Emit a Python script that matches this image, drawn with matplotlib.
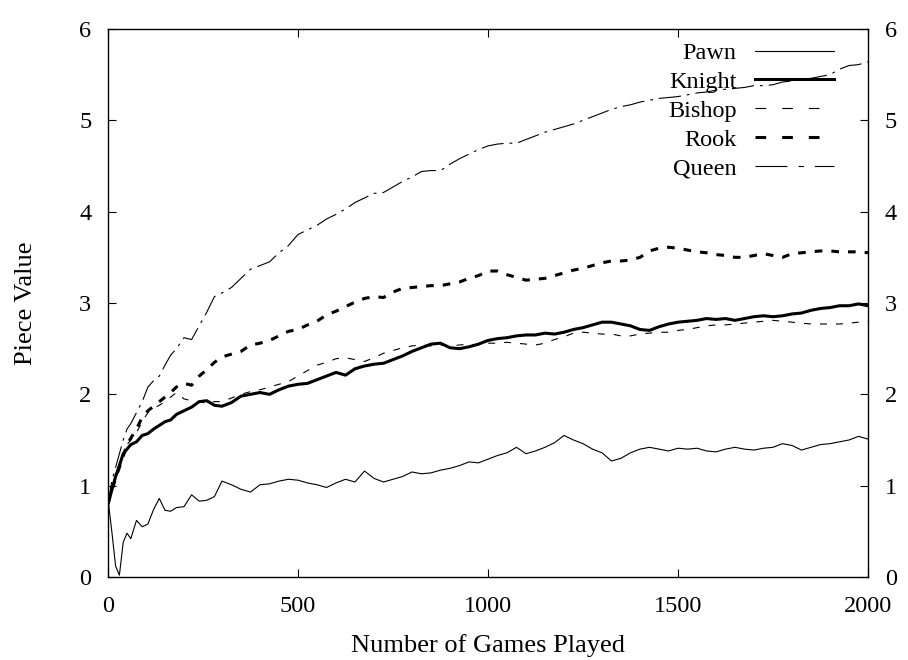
import matplotlib
matplotlib.use("Agg")
from matplotlib import pyplot as plt
from matplotlib.lines import Line2D

plt.rcParams['font.family'] = ['Liberation Serif', 'DejaVu Serif']
plt.rcParams['lines.scale_dashes'] = False

games = [0, 10, 20, 30, 40, 50, 60, 75, 90, 105, 120, 135, 150, 165, 180,
         200, 220, 240, 260, 280, 300, 325, 350, 375, 400, 425, 450, 475,
         500, 525, 550, 575, 600, 625, 650, 675, 700, 725, 750, 775, 800,
         825, 850, 875, 900, 925, 950, 975, 1000, 1025, 1050, 1075, 1100,
         1125, 1150, 1175, 1200, 1225, 1250, 1275, 1300, 1325, 1350, 1375,
         1400, 1425, 1450, 1475, 1500, 1525, 1550, 1575, 1600, 1625, 1650,
         1675, 1700, 1725, 1750, 1775, 1800, 1825, 1850, 1875, 1900, 1925,
         1950, 1975, 2000]

pawn = [0.85, 0.50, 0.12, 0.02, 0.38, 0.48, 0.42, 0.62, 0.55, 0.58, 0.74,
        0.86, 0.73, 0.72, 0.76, 0.77, 0.90, 0.83, 0.84, 0.88, 1.05, 1.01,
        0.96, 0.93, 1.01, 1.02, 1.05, 1.07, 1.06, 1.03, 1.01, 0.98, 1.03,
        1.07, 1.04, 1.16, 1.08, 1.04, 1.07, 1.10, 1.15, 1.13, 1.14, 1.17,
        1.19, 1.22, 1.26, 1.25, 1.29, 1.33, 1.36, 1.42, 1.35, 1.38, 1.42,
        1.47, 1.55, 1.50, 1.46, 1.40, 1.36, 1.27, 1.30, 1.36, 1.40, 1.42,
        1.40, 1.38, 1.41, 1.40, 1.41, 1.38, 1.37, 1.40, 1.42, 1.40, 1.39,
        1.41, 1.42, 1.46, 1.44, 1.39, 1.42, 1.45, 1.46, 1.48, 1.50, 1.54,
        1.51]

knight = [0.80, 0.95, 1.10, 1.22, 1.35, 1.40, 1.45, 1.48, 1.55, 1.57, 1.62,
          1.66, 1.70, 1.72, 1.78, 1.82, 1.86, 1.92, 1.93, 1.88, 1.87, 1.91,
          1.98, 2.00, 2.02, 2.00, 2.05, 2.09, 2.11, 2.12, 2.16, 2.20, 2.24,
          2.21, 2.28, 2.31, 2.33, 2.34, 2.38, 2.42, 2.47, 2.51, 2.55, 2.56,
          2.51, 2.50, 2.52, 2.55, 2.59, 2.61, 2.62, 2.64, 2.65, 2.65, 2.67,
          2.66, 2.68, 2.71, 2.73, 2.76, 2.79, 2.79, 2.77, 2.75, 2.71, 2.70,
          2.74, 2.77, 2.79, 2.80, 2.81, 2.83, 2.82, 2.83, 2.81, 2.83, 2.85,
          2.86, 2.85, 2.86, 2.88, 2.89, 2.92, 2.94, 2.95, 2.97, 2.97, 2.99,
          2.97]

bishop = [0.80, 1.00, 1.05, 1.20, 1.35, 1.45, 1.50, 1.58, 1.70, 1.80, 1.85,
          1.88, 1.92, 1.97, 2.02, 1.95, 1.93, 1.92, 1.90, 1.92, 1.92, 1.96,
          2.00, 2.03, 2.05, 2.08, 2.11, 2.14, 2.20, 2.26, 2.32, 2.35, 2.39,
          2.40, 2.38, 2.36, 2.40, 2.45, 2.48, 2.51, 2.53, 2.54, 2.53, 2.54,
          2.53, 2.54, 2.55, 2.54, 2.56, 2.56, 2.57, 2.56, 2.55, 2.54, 2.56,
          2.60, 2.63, 2.67, 2.68, 2.67, 2.66, 2.66, 2.64, 2.64, 2.66, 2.67,
          2.68, 2.68, 2.70, 2.71, 2.73, 2.75, 2.76, 2.76, 2.77, 2.78, 2.79,
          2.80, 2.81, 2.80, 2.79, 2.78, 2.77, 2.77, 2.77, 2.77, 2.78, 2.79,
          2.80]

rook = [0.80, 0.95, 1.08, 1.20, 1.32, 1.45, 1.52, 1.62, 1.75, 1.82, 1.87,
        1.92, 1.97, 2.02, 2.08, 2.12, 2.10, 2.20, 2.27, 2.35, 2.41, 2.44,
        2.47, 2.54, 2.56, 2.59, 2.64, 2.69, 2.71, 2.76, 2.80, 2.87, 2.91,
        2.96, 3.01, 3.05, 3.07, 3.06, 3.12, 3.16, 3.17, 3.18, 3.19, 3.19,
        3.21, 3.23, 3.27, 3.30, 3.35, 3.35, 3.31, 3.28, 3.25, 3.26, 3.27,
        3.30, 3.33, 3.36, 3.38, 3.41, 3.44, 3.46, 3.46, 3.47, 3.50, 3.57,
        3.60, 3.61, 3.60, 3.58, 3.56, 3.55, 3.53, 3.52, 3.50, 3.50, 3.52,
        3.54, 3.52, 3.50, 3.54, 3.55, 3.56, 3.57, 3.57, 3.56, 3.56, 3.56,
        3.55]

queen = [0.80, 1.05, 1.20, 1.35, 1.50, 1.62, 1.68, 1.80, 1.92, 2.08, 2.15,
         2.20, 2.32, 2.43, 2.50, 2.62, 2.60, 2.75, 2.90, 3.07, 3.11, 3.17,
         3.27, 3.37, 3.41, 3.45, 3.55, 3.63, 3.75, 3.80, 3.85, 3.92, 3.97,
         4.03, 4.10, 4.15, 4.20, 4.21, 4.27, 4.33, 4.38, 4.44, 4.45, 4.45,
         4.52, 4.58, 4.63, 4.68, 4.72, 4.74, 4.75, 4.75, 4.79, 4.83, 4.87,
         4.90, 4.93, 4.96, 5.00, 5.04, 5.08, 5.12, 5.15, 5.17, 5.20, 5.22,
         5.24, 5.25, 5.26, 5.28, 5.30, 5.31, 5.33, 5.34, 5.35, 5.36, 5.38,
         5.38, 5.39, 5.42, 5.43, 5.45, 5.46, 5.48, 5.50, 5.56, 5.60, 5.61,
         5.64]

labels = ['Pawn', 'Knight', 'Bishop', 'Rook', 'Queen']

fig = plt.figure(figsize=(9.08, 6.6), dpi=100)
ax = fig.add_axes([108/908, 83/660, 760/908, 548/660])

ax.plot(games, pawn, color='k', lw=0.8)
ax.plot(games, knight, color='k', lw=2.2)
ax.plot(games, bishop, color='k', lw=0.8, dashes=(5, 6.5))
ax.plot(games, rook, color='k', lw=2.2, dashes=(5.5, 6.5))
ax.plot(games, queen, color='k', lw=0.8, dashes=(16, 4.3, 2, 4.3))

ax.set_xlim(0, 2000)
ax.set_ylim(0, 6)
ax.set_xticks([0, 500, 1000, 1500, 2000])
ax.set_yticks([0, 1, 2, 3, 4, 5, 6])
ax.tick_params(direction='in', length=6, width=0.8, labelsize=17.5,
               top=True, right=True, labelright=True)
ax.tick_params(axis='y', pad=12)
ax.tick_params(axis='x', pad=14)
for s in ax.spines.values():
    s.set_linewidth(1.0)

ax.set_xlabel('Number of Games Played', fontsize=19, labelpad=12)
ax.set_ylabel('Piece Value', fontsize=19, labelpad=30)

# legend keys drawn with the longer dash lengths used in the key
handles = [
    Line2D([], [], color='k', lw=0.8),
    Line2D([], [], color='k', lw=2.2),
    Line2D([], [], color='k', lw=0.8, dashes=(7.7, 11.5)),
    Line2D([], [], color='k', lw=2.2, dashes=(7.7, 11.5)),
    Line2D([], [], color='k', lw=0.8, dashes=(23, 8, 4, 7.7)),
]
ax.legend(handles, labels, loc='upper right', frameon=False,
          markerfirst=False, fontsize=17.5, handlelength=3.25,
          handletextpad=0.75, labelspacing=0.28, borderpad=0,
          bbox_to_anchor=(846/908, 1 - 30/660),
          bbox_transform=fig.transFigure)

fig.savefig('out.png', dpi=100)
